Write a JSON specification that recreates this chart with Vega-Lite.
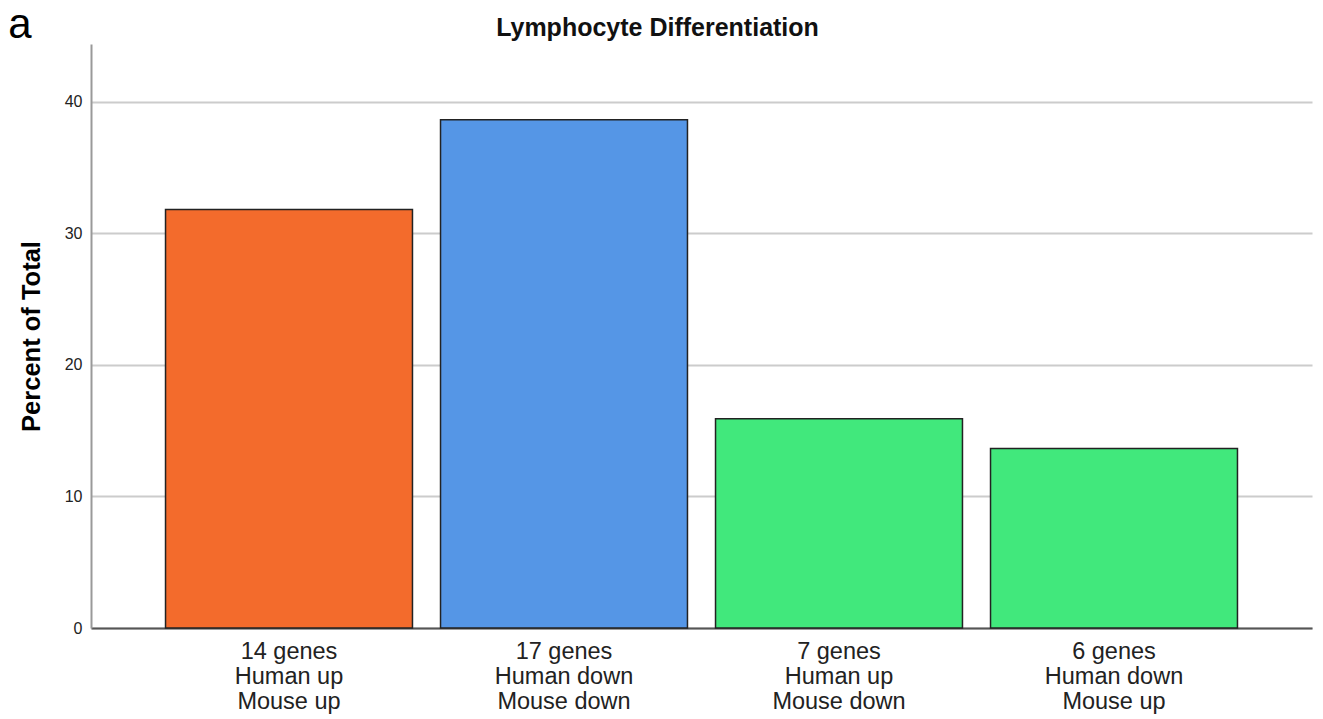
{
  "$schema": "https://vega.github.io/schema/vega-lite/v6.json",
  "autosize": "none",
  "padding": {"left": 91, "top": 44, "right": 1232, "bottom": 675},
  "background": "white",
  "title": {"text": "a", "anchor": "start", "frame": "bounds", "fontSize": 42, "fontWeight": "normal", "font": "Liberation Sans", "color": "#000", "dx": -11, "dy": 31, "offset": 0},
  "vconcat": [
    {
      "width": 1221,
      "height": 584,
      "title": {"text": "Lymphocyte Differentiation", "anchor": "middle", "frame": "group", "fontSize": 25, "fontWeight": "bold", "font": "Liberation Sans", "color": "#111", "dx": -44, "offset": 3},
      "data": {
        "values": [
          {"group": "14 genes|Human up|Mouse up", "percent": 31.82},
          {"group": "17 genes|Human down|Mouse down", "percent": 38.64},
          {"group": "7 genes|Human up|Mouse down", "percent": 15.91},
          {"group": "6 genes|Human down|Mouse up", "percent": 13.64}
        ]
      },
      "mark": {"type": "bar", "stroke": "#222", "strokeWidth": 1.5},
      "encoding": {
        "x": {
          "field": "group", "type": "nominal", "sort": null,
          "scale": {"paddingInner": 0.102, "paddingOuter": 0.271},
          "axis": {"title": null, "labelAngle": 0, "ticks": false, "labelExpr": "split(datum.label, '|')", "labelFontSize": 23.5, "labelFont": "Liberation Sans", "labelColor": "#222", "labelPadding": 11, "labelLineHeight": 25, "domainColor": "#555", "domainWidth": 2, "grid": false}
        },
        "y": {
          "field": "percent", "type": "quantitative",
          "scale": {"domain": [0, 44.4], "nice": false},
          "axis": {"title": "Percent of Total", "values": [0, 10, 20, 30, 40], "titleFontSize": 25.5, "titleFont": "Liberation Sans", "titleFontWeight": "bold", "titleColor": "#000", "titlePadding": 20, "labelFontSize": 16, "labelFont": "Liberation Sans", "labelColor": "#222", "labelPadding": 9, "ticks": false, "domainColor": "#999", "domainWidth": 2, "gridColor": "#ccc", "gridWidth": 2}
        },
        "color": {
          "field": "group", "type": "nominal", "sort": null, "legend": null,
          "scale": {"domain": ["14 genes|Human up|Mouse up", "17 genes|Human down|Mouse down", "7 genes|Human up|Mouse down", "6 genes|Human down|Mouse up"], "range": ["#F36B2C", "#5596E6", "#41E87C", "#41E87C"]}
        }
      }
    }
  ],
  "config": {"view": {"stroke": null}, "concat": {"spacing": 0}}
}
